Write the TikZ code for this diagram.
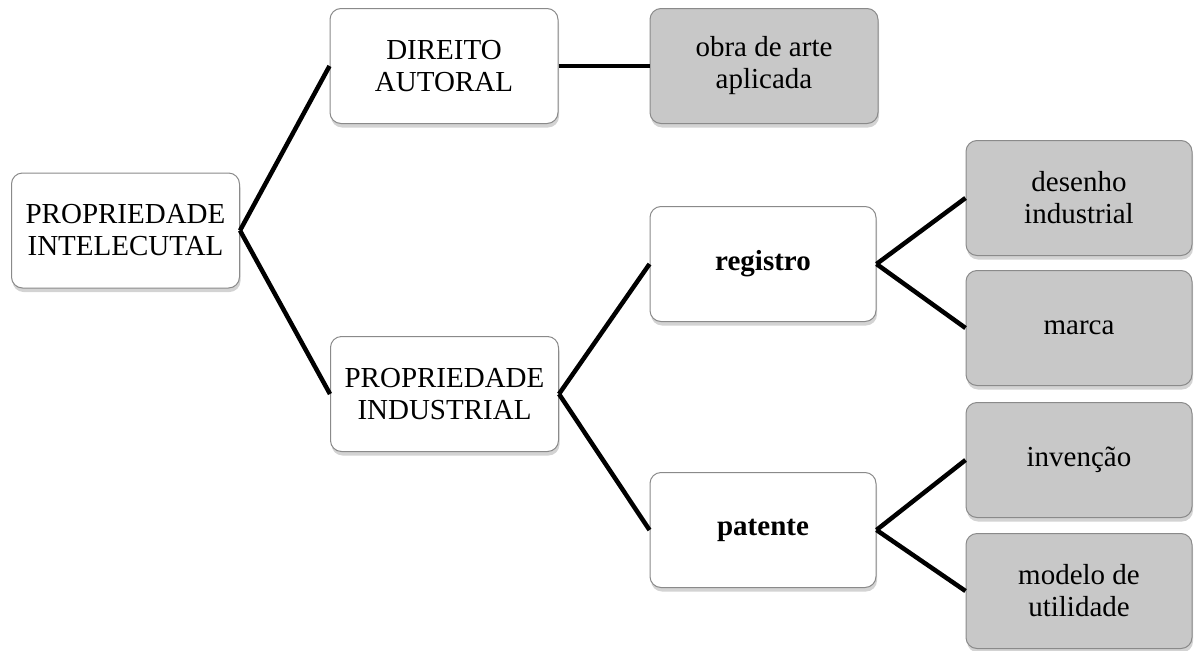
\documentclass[tikz,border=0pt]{standalone}
\usepackage{fontspec}
\setmainfont{Liberation Serif}
\usetikzlibrary{shadows}
\definecolor{leafgray}{HTML}{C8C8C8}
\definecolor{edgegray}{HTML}{8A8A8A}
\tikzset{
  box/.style={draw=edgegray, line width=1pt, rounded corners=11pt, fill=white,
    minimum width=228pt, minimum height=115pt, align=center, inner sep=2pt,
    font=\fontsize{29}{32}\selectfont,
    drop shadow={opacity=0.35, shadow xshift=1pt, shadow yshift=-4pt}},
  leaf/.style={box, fill=leafgray, minimum width=226pt},
  link/.style={line width=4.5pt, black}
}
\begin{document}
\begin{tikzpicture}[x=1pt,y=-1pt]
\useasboundingbox (0,0) rectangle (1195,651);
\node[box] (pi) at (125.5,230.5) {PROPRIEDADE\\INTELECUTAL};
\node[box] (da) at (444,66) {DIREITO\\AUTORAL};
\node[leaf,minimum width=228pt] (obra) at (764,66) {obra de arte\\aplicada};
\node[box] (pind) at (444.5,394) {PROPRIEDADE\\INDUSTRIAL};
\node[box,minimum width=226pt] (reg) at (763,264) {\textbf{registro}};
\node[box,minimum width=226pt] (pat) at (763,530) {\textbf{patente}};
\node[leaf] (des) at (1079,198) {desenho\\industrial};
\node[leaf] (mar) at (1079,328) {marca};
\node[leaf] (inv) at (1079,460) {invenção};
\node[leaf] (mod) at (1079,591) {modelo de\\utilidade};
\draw[link] (pi.east) -- (da.west);
\draw[link] (pi.east) -- (pind.west);
\draw[link] (da.east) -- (obra.west);
\draw[link] (pind.east) -- (reg.west);
\draw[link] (pind.east) -- (pat.west);
\draw[link] (reg.east) -- (des.west);
\draw[link] (reg.east) -- (mar.west);
\draw[link] (pat.east) -- (inv.west);
\draw[link] (pat.east) -- (mod.west);
\end{tikzpicture}
\end{document}
